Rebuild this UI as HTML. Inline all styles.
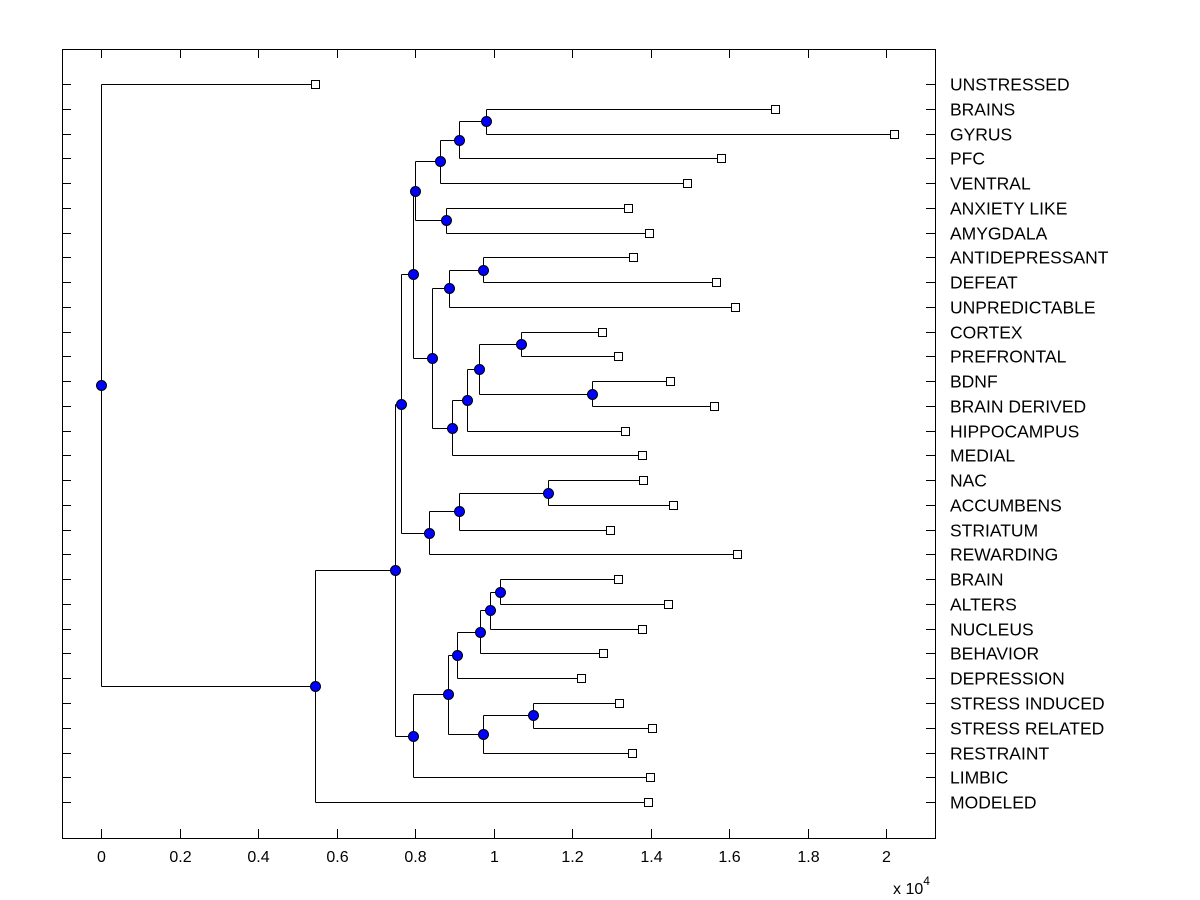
<!DOCTYPE html>
<html><head><meta charset="utf-8"><style>
body{margin:0;background:#fff;}
svg{display:block;font-family:"Liberation Sans",Arial,sans-serif;}
</style></head><body>
<svg id="chart" width="1200" height="900" viewBox="0 0 1200 900" xmlns="http://www.w3.org/2000/svg">
<rect x="0" y="0" width="1200" height="900" fill="#fff"/>
<g id="plot"></g>
</svg>
<script>
const leafLabels=["UNSTRESSED","BRAINS","GYRUS","PFC","VENTRAL","ANXIETY LIKE","AMYGDALA","ANTIDEPRESSANT","DEFEAT","UNPREDICTABLE","CORTEX","PREFRONTAL","BDNF","BRAIN DERIVED","HIPPOCAMPUS","MEDIAL","NAC","ACCUMBENS","STRIATUM","REWARDING","BRAIN","ALTERS","NUCLEUS","BEHAVIOR","DEPRESSION","STRESS INDUCED","STRESS RELATED","RESTRAINT","LIMBIC","MODELED"];
const leafHeights=[0.545,1.717,2.020,1.580,1.493,1.343,1.396,1.355,1.567,1.615,1.276,1.317,1.450,1.562,1.335,1.378,1.381,1.457,1.297,1.620,1.317,1.445,1.378,1.279,1.223,1.320,1.404,1.353,1.399,1.394];
const nodeNames=["L","K","I","J","G","O","M","R","S","Q","P","N","H","E","U","T","F","C","AA","Z","Y","W","BB","X","V","D","B","A","root"];
const nodeHeights=[0.981,0.912,0.864,0.879,0.800,0.973,0.887,1.070,1.251,0.963,0.932,0.894,0.843,0.795,1.139,0.912,0.836,0.764,1.017,0.991,0.966,0.907,1.101,0.973,0.884,0.795,0.749,0.545,0];
const nodeChildren=[[1,2],["L",3],["K",4],[5,6],["I","J"],[7,8],["O",9],[10,11],[12,13],["R","S"],["Q",14],["P",15],["M","N"],["G","H"],[16,17],["U",18],["T",19],["E","F"],[20,21],["AA",22],["Z",23],["Y",24],[25,26],["BB",27],["W","X"],["V",28],["C","D"],["B",29],[0,"A"]];
const xTicks=[0,0.2,0.4,0.6,0.8,1,1.2,1.4,1.6,1.8,2];
const xTickLabels=["0","0.2","0.4","0.6","0.8","1","1.2","1.4","1.6","1.8","2"];

const L=62,R=935,T=49,B=838;
const xs=v=>101+v*392.5;
const ys=i=>84+i*24.76;
const NS="http://www.w3.org/2000/svg";
const g=document.getElementById('plot');
function mk(tag,attrs,parent){const e=document.createElementNS(NS,tag);for(const k in attrs)e.setAttribute(k,attrs[k]);(parent||g).appendChild(e);return e;}

const axes=mk('rect',{x:L+0.5,y:T+0.5,width:R-L,height:B-T,fill:'none',stroke:'#000','stroke-width':1});



xTicks.forEach((v,i)=>{
  const x=Math.round(xs(v))+0.5;
  const t1=mk('line',{x1:x,y1:B,x2:x,y2:B-9,stroke:'#000'});
  
  
  const t2=mk('line',{x1:x,y1:T,x2:x,y2:T+9,stroke:'#000'});
  
  
  const tx=mk('text',{x:x,y:862,'text-anchor':'middle','font-size':16});
  tx.textContent=xTickLabels[i];
  
  
});
const sc=mk('text',{x:893,y:894,'font-size':16});
sc.innerHTML='x 10<tspan dy="-9" font-size="12">4</tspan>';



leafLabels.forEach((lab,i)=>{
  const y=Math.round(ys(i))+0.5;
  const a=mk('line',{x1:L,y1:y,x2:L+9,y2:y,stroke:'#000'});
  
  
  const b=mk('line',{x1:R,y1:y,x2:R-9,y2:y,stroke:'#000'});
  
  
  const t=mk('text',{x:950,y:y+6,'font-size':17.5});
  t.textContent=lab;
  
  
});

const pos={};
function info(c){ if(typeof c==='number') return {x:xs(leafHeights[c]),y:ys(c)}; return pos[c]; }
const lines=mk('g',{stroke:'#000','stroke-width':1,fill:'none'});


nodeNames.forEach((n,k)=>{
  const c=nodeChildren[k].map(info);
  const x=xs(nodeHeights[k]);
  pos[n]={x:x,y:(c[0].y+c[1].y)/2};
  const xr=Math.round(x)+0.5;
  const v=mk('line',{x1:xr,y1:Math.round(c[0].y)+0.5,x2:xr,y2:Math.round(c[1].y)+0.5},lines);
  
  
  c.forEach(cc=>{
    const yy=Math.round(cc.y)+0.5;
    const h=mk('line',{x1:xr,y1:yy,x2:Math.round(cc.x)+0.5,y2:yy},lines);
    
    
  });
});
leafHeights.forEach((h,i)=>{
  const x=Math.round(xs(h)),y=Math.round(ys(i));
  const s=mk('rect',{x:x-3.5,y:y-3.5,width:8,height:8,fill:'#fff',stroke:'#000'});
  
  
});
nodeNames.forEach(n=>{
  const p=pos[n];
  const c=mk('circle',{cx:Math.round(p.x)+0.5,cy:Math.round(p.y)+0.5,r:5,fill:'#0000ff',stroke:'#000','stroke-width':1});
  
  
});
</script>
</body></html>
